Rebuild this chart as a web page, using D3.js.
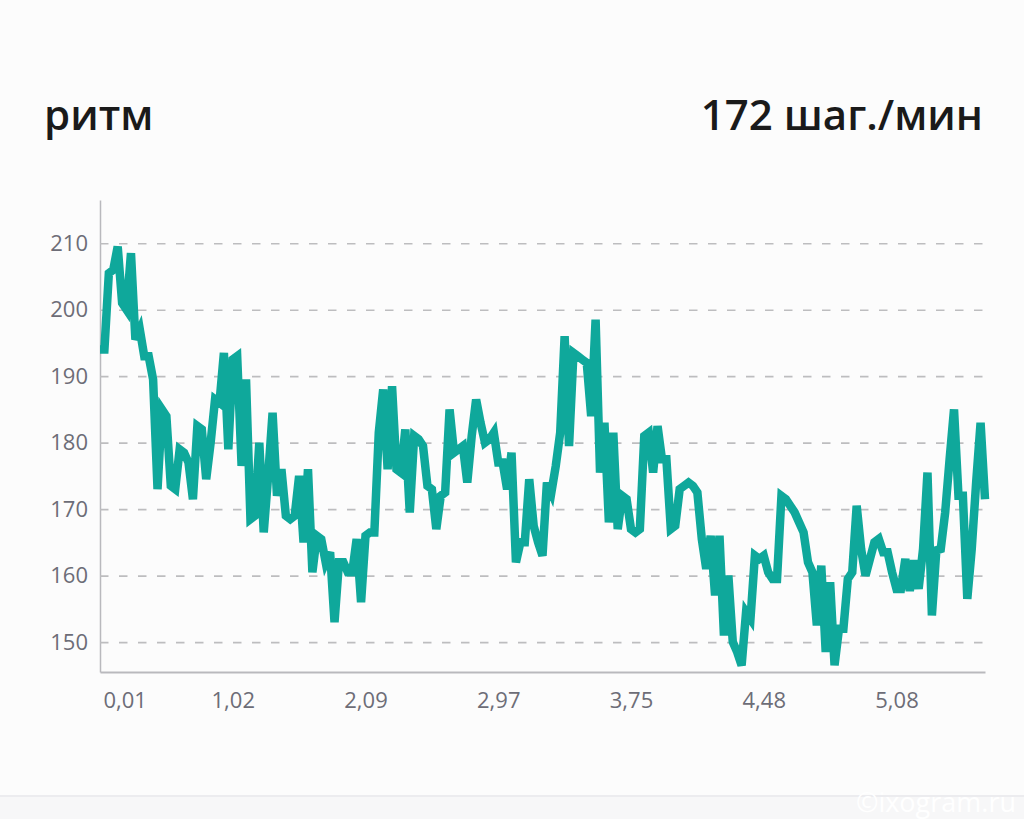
<!DOCTYPE html>
<html>
<head>
<meta charset="utf-8">
<script src="https://cdn.jsdelivr.net/npm/d3@7"></script>
<style>
  body { margin: 0; background: #fcfcfc; }
  #viz { width: 1024px; height: 819px; overflow: hidden; }
  text { font-family: "Open Sans", sans-serif; }
</style>
</head>
<body>
<div id="viz"></div>
<script>
var w = 1024;
var h = 819;

var title = "ритм";
var summary = "172 шаг./мин";
var yTicks = [150, 160, 170, 180, 190, 200, 210];
var xTickIndex = [0, 30, 60, 90, 120, 150, 180];
var xTickLabels = ["0,01", "1,02", "2,09", "2,97", "3,75", "4,48", "5,08"];

// cadence, steps per minute, one value per sample
var cadence = [
  194, 194, 205.5, 206, 209.5, 201, 200, 208.5, 195.5, 197,
  193, 193, 189.5, 173, 185, 184, 173.5, 173, 179, 178.5,
  177, 171.5, 182.5, 182, 174.5, 180, 186.5, 186, 193.5, 179,
  192.5, 193, 176.5, 189.5, 168.5, 169, 180, 166.5, 175, 184.5,
  172, 176, 169, 168.5, 169, 175, 165, 176, 160.5, 166,
  165.5, 162, 163.5, 153, 162, 162, 160.5, 160.5, 165.5, 156,
  166, 166.5, 166.5, 181.5, 188, 176, 188.5, 176, 175.5, 182,
  169.5, 181, 180.5, 179.5, 173.5, 173, 167, 172, 172.5, 185,
  178.5, 179, 179.5, 174, 181, 186.5, 183, 180, 180.5, 181.5,
  177, 177, 173, 178.5, 162, 165, 165, 174.5, 167.5, 165,
  163, 174, 172.5, 176.5, 181.5, 196, 179.5, 193.5, 193, 192.5,
  192, 184, 198.5, 175.5, 183, 168, 181.5, 167, 172, 171.5,
  167, 166.5, 167, 181, 181.5, 175.5, 182.5, 177.5, 177.5, 167,
  167.5, 173, 173.5, 174, 173.5, 172.5, 165.5, 161, 166, 157,
  166, 151, 160, 150, 148.5, 146.5, 154.5, 153.5, 163, 162.5,
  163, 160.5, 159.5, 159.5, 172, 171.5, 170.5, 169.5, 168, 166.5,
  162, 160.5, 152.5, 161.5, 148.5, 159, 146.5, 152, 152, 159.5,
  160.5, 170.5, 164, 160, 162.5, 165, 165.5, 163.5, 163.5, 160.5,
  158, 158, 162.5, 157.7, 162.3, 158, 164, 175.5, 154, 163.8,
  164, 169.5, 177.5, 185, 172, 172, 156.5, 164, 174, 183,
  171.5
];

var svg = d3.select("#viz")
    .append("svg")
    .attr("width", w)
    .attr("height", h);

svg.append("rect")
    .attr("width", w)
    .attr("height", h)
    .attr("fill", "#fcfcfc");

// bottom band of the screen
svg.append("rect")
    .attr("x", 0).attr("y", 796)
    .attr("width", w).attr("height", h - 796)
    .attr("fill", "#f7f7f8");
svg.append("line")
    .attr("x1", 0).attr("x2", w)
    .attr("y1", 796).attr("y2", 796)
    .attr("stroke", "#ececef")
    .attr("stroke-width", 2);

svg.append("text")
    .attr("x", 44)
    .attr("y", 130)
    .attr("font-size", 42)
    .attr("font-weight", 600)
    .attr("fill", "#1a1a1a")
    .text(title);

svg.append("text")
    .attr("x", 983)
    .attr("y", 130)
    .attr("text-anchor", "end")
    .attr("font-size", 42)
    .attr("font-weight", 600)
    .attr("fill", "#1a1a1a")
    .text(summary);

var x = d3.scaleLinear()
    .domain([0, cadence.length - 1])
    .range([100, 985]);

var y = d3.scaleLinear()
    .domain([145.5, 216.5])
    .range([672, 200]);

// y axis + dashed grid
var gy = svg.append("g")
    .attr("transform", "translate(100,0)")
    .call(d3.axisLeft(y)
        .tickValues(yTicks)
        .tickSizeInner(-885)
        .tickSizeOuter(0)
        .tickPadding(12)
        .tickFormat(d3.format("d")));

gy.select(".domain")
    .attr("stroke", "#b9b9bd")
    .attr("stroke-width", 1.5);
gy.selectAll(".tick line")
    .attr("stroke", "#bdbdbf")
    .attr("stroke-width", 1.6)
    .attr("stroke-dasharray", "8.5,10.5");
gy.selectAll(".tick text")
    .attr("font-size", 22)
    .attr("fill", "#6d6d77")
    .attr("font-family", "Open Sans, sans-serif");

// x axis
var gx = svg.append("g")
    .attr("transform", "translate(0,672)")
    .call(d3.axisBottom(x)
        .tickValues(xTickIndex)
        .tickSize(0)
        .tickPadding(20)
        .tickFormat(function(d, i) { return xTickLabels[i]; }));

gx.select(".domain")
    .attr("stroke", "#b9b9bd")
    .attr("stroke-width", 2);
gx.selectAll(".tick text")
    .attr("font-size", 22)
    .attr("fill", "#6d6d77")
    .attr("font-family", "Open Sans, sans-serif");
// first label is kept inside the plot
gx.selectAll(".tick text")
    .filter(function(d, i) { return i === 0; })
    .attr("text-anchor", "start")
    .attr("dx", 3);

var line = d3.line()
    .x(function(d, i) { return x(i); })
    .y(function(d) { return y(d); });

svg.append("path")
    .datum(cadence)
    .attr("d", line)
    .attr("fill", "none")
    .attr("stroke", "#0fa89b")
    .attr("stroke-width", 8.5);

// watermark
svg.append("text")
    .attr("x", 1016)
    .attr("y", 812)
    .attr("text-anchor", "end")
    .attr("font-size", 27)
    .attr("fill", "#ffffff")
    .text("©ixogram.ru");
</script>
</body>
</html>
